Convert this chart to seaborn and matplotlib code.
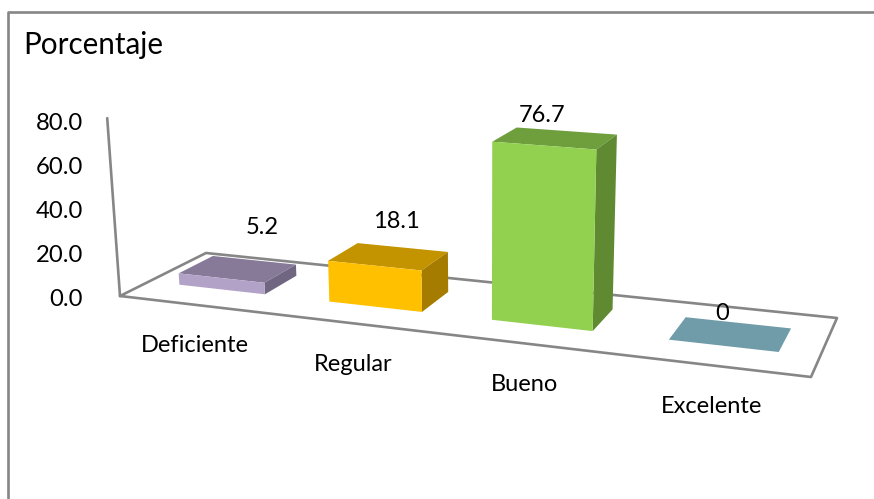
import numpy as np
import pandas as pd
import matplotlib
matplotlib.use("Agg")
import matplotlib.pyplot as plt
from matplotlib.patches import Polygon
from matplotlib.transforms import Transform, IdentityTransform
from matplotlib.lines import Line2D
import seaborn as sns

# ---- data ----
categories = ["Deficiente", "Regular", "Bueno", "Excelente"]
values = [5.2, 18.1, 76.7, 0]
y_ticks = [0, 20, 40, 60, 80]
title = "Porcentaje"

# ---- style ----
front_colors = ["#b3a2c7", "#ffc000", "#92d050", "#6f9ca8"]
top_colors = ["#877a98", "#c49300", "#6f9e3d", "#6f9ca8"]
side_colors = ["#716682", "#a67c00", "#5f8a32", "#6f9ca8"]
GRAY = "#868686"
LW = 1.9
FONT = "Lato"
W, H = 874, 499

sns.set_theme(style="white", rc={"font.family": FONT})
fig = plt.figure(figsize=(W / 100, H / 100), dpi=100)
ax = fig.add_axes([120 / W, 1 - 297 / H, 690 / W, 176 / H])

# ---- projection of the floor (category position, depth) and height to pixels ----
floor_px = np.array([[120, 296], [811, 377], [837, 318], [206, 253]], float)
floor_uv = np.array([[0, 0], [4, 0], [4, 1], [0, 1]], float)
A, b = [], []
for (u, d), (px, py) in zip(floor_uv, floor_px):
    A.append([u, d, 1, 0, 0, 0, -u * px, -d * px]); b.append(px)
    A.append([0, 0, 0, u, d, 1, -u * py, -d * py]); b.append(py)
h = np.linalg.solve(np.array(A), np.array(b))


def project(x, depth, v):
    """x: category position, depth: 0..1 along the floor, v: value. Returns display px."""
    x, depth, v = np.broadcast_arrays(np.asarray(x, float), np.asarray(depth, float), np.asarray(v, float))
    u = x + 0.5
    den = h[6] * u + h[7] * depth + 1
    px = (h[0] * u + h[1] * depth + h[2]) / den
    py = (h[3] * u + h[4] * depth + h[5]) / den
    lean = (px - 483) * 0.00044
    scale = (2.15 + (px - 120) * 0.00045) * (1.034 - 0.1 * depth)
    return np.column_stack([px + lean * v, H - (py - scale * v)])


class Oblique(Transform):
    input_dims = output_dims = 2
    is_separable = False
    has_inverse = False

    def __init__(self, floor_depth):
        super().__init__()
        self.floor_depth = floor_depth

    def transform_non_affine(self, values):
        values = np.asarray(values)
        return project(values[:, 0], self.floor_depth, values[:, 1])


D0, D1 = 0.32, 0.73
frame = pd.DataFrame({"categoria": categories, "porcentaje": values})
sns.barplot(data=frame, x="categoria", y="porcentaje", hue="categoria",
            palette=front_colors, width=0.58, legend=False, ax=ax, saturation=1)
ax.set_xlim(-0.5, 3.5)
ax.set_ylim(0, 80)
ax.set_yticks(y_ticks)
ax.set_yticklabels([f"{t:.1f}" for t in y_ticks], fontsize=17.2, color="black", family=FONT)
ax.tick_params(axis="y", length=0, pad=26.5)
ax.set_xticks([])
ax.set_xlabel("")
ax.set_ylabel("")
ax.patch.set_visible(False)
sns.despine(ax=ax, left=True, bottom=True)

ident = IdentityTransform()
# outer frame
xs, ys = [8, 8, 875], [499, 12, 12]
fig.add_artist(Line2D(np.array(xs), H - np.array(ys), transform=ident, color=GRAY, lw=LW))

# floor and wall line
corners = np.array([[-0.5, 0], [3.5, 0], [3.5, 1], [-0.5, 1], [-0.5, 0]])
floor = project(corners[:, 0], corners[:, 1], 0)
ax.add_line(Line2D(floor[:, 0], floor[:, 1], transform=ident, color=GRAY, lw=LW, clip_on=False, zorder=1))
wall = project([-0.5, -0.5], 0, [0, 80])
ax.add_line(Line2D(wall[:, 0], wall[:, 1], transform=ident, color=GRAY, lw=LW, clip_on=False, zorder=1))

# bars: seaborn's rectangles become the front faces, the other two faces follow them
for i, bar in enumerate(ax.patches):
    x0, x1, v = bar.get_x(), bar.get_x() + bar.get_width(), bar.get_height()
    bar.set_transform(Oblique(D0))
    bar.set_clip_on(False)
    bar.set_zorder(4)
    bar.set_linewidth(0)
    top = project([x0, x1, x1, x0], [D0, D0, D1, D1], v)
    side = project([x1, x1, x1, x1], [D0, D1, D1, D0], [v, v, 0, 0])
    ax.add_patch(Polygon(top, transform=ident, facecolor=top_colors[i], edgecolor="none", clip_on=False, zorder=3))
    if v > 0:
        ax.add_patch(Polygon(side, transform=ident, facecolor=side_colors[i], edgecolor="none", clip_on=False, zorder=3))

# texts
def put(px, py, s, **kw):
    fig.text(px / W, 1 - py / H, s, ha="center", va="center", color="black", family=FONT, **kw)

label_pos = [(262, 228), (396, 222), (542, 116), (722, 314)]
for (px, py), v in zip(label_pos, values):
    put(px, py, f"{v:g}", fontsize=17, zorder=6)

base = project(np.arange(4), 0, 0)
for (px, py), c in zip(base, categories):
    put(px + 1, H - py + 41, c, fontsize=17)

fig.text(23 / W, 1 - 45 / H, title, ha="left", va="center", color="black", family=FONT, fontsize=21.3)

fig.savefig("out.png", dpi=100)
